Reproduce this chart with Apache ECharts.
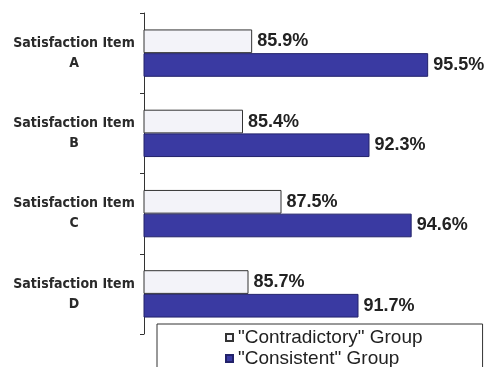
<!DOCTYPE html>
<html>
<head>
<meta charset="utf-8">
<script src="https://cdn.jsdelivr.net/npm/echarts@6/dist/echarts.min.js"></script>
<style>
  html, body { margin: 0; padding: 0; background: #ffffff; }
  #chart { width: 495px; height: 367px; }
</style>
</head>
<body>
<div id="chart"></div>
<script>
// Satisfaction items (top to bottom)
const categories = ['Satisfaction Item\nA', 'Satisfaction Item\nB', 'Satisfaction Item\nC', 'Satisfaction Item\nD'];

// Share satisfied, in percent
const contradictoryValues = [85.9, 85.4, 87.5, 85.7];
const consistentValues = [95.5, 92.3, 94.6, 91.7];

const seriesNames = ['"Contradictory" Group', '"Consistent" Group'];

const chart = echarts.init(document.getElementById('chart'), null, { renderer: 'canvas' });

const valueLabel = {
  show: true,
  position: 'right',
  distance: 5,
  formatter: p => p.value.toFixed(1) + '%',
  fontFamily: '"Liberation Sans", Arial, sans-serif',
  fontWeight: 'bold',
  fontSize: 18,
  color: '#222222'
};

chart.setOption({
  animation: false,
  backgroundColor: '#ffffff',
  grid: { left: 144, right: 21, top: 13, bottom: 33, containLabel: false },
  xAxis: {
    type: 'value',
    min: 80,
    max: 98,
    show: false
  },
  yAxis: {
    type: 'category',
    data: categories,
    inverse: true,
    axisLine: { show: true, lineStyle: { color: '#333333', width: 1 } },
    axisTick: { show: true, length: 4, lineStyle: { color: '#333333' } },
    axisLabel: {
      align: 'center',
      margin: 70,
      lineHeight: 20,
      fontFamily: '"DejaVu Sans Condensed", "DejaVu Sans", sans-serif',
      fontWeight: 'bold',
      fontSize: 14,
      color: '#2a2a2a'
    },
    splitLine: { show: false }
  },
  legend: {
    orient: 'vertical',
    left: 157,
    top: 324,
    height: 120,
    padding: [4, 60, 40, 68],
    itemWidth: 7,
    itemHeight: 7,
    itemGap: 2,
    icon: 'rect',
    borderColor: '#333333',
    borderWidth: 1,
    backgroundColor: '#ffffff',
    textStyle: {
      fontFamily: '"Liberation Sans", Arial, sans-serif',
      fontSize: 19,
      color: '#222222'
    },
    data: seriesNames
  },
  series: [
    {
      name: seriesNames[0],
      type: 'bar',
      data: contradictoryValues,
      barGap: '0%',
      barCategoryGap: '41%',
      itemStyle: { color: '#f3f3f9', borderColor: '#333333', borderWidth: 1 },
      label: valueLabel
    },
    {
      name: seriesNames[1],
      type: 'bar',
      data: consistentValues,
      barGap: '0%',
      barCategoryGap: '41%',
      itemStyle: { color: '#3a3aa2', borderColor: '#22226a', borderWidth: 1 },
      label: valueLabel
    }
  ]
});
</script>
</body>
</html>
